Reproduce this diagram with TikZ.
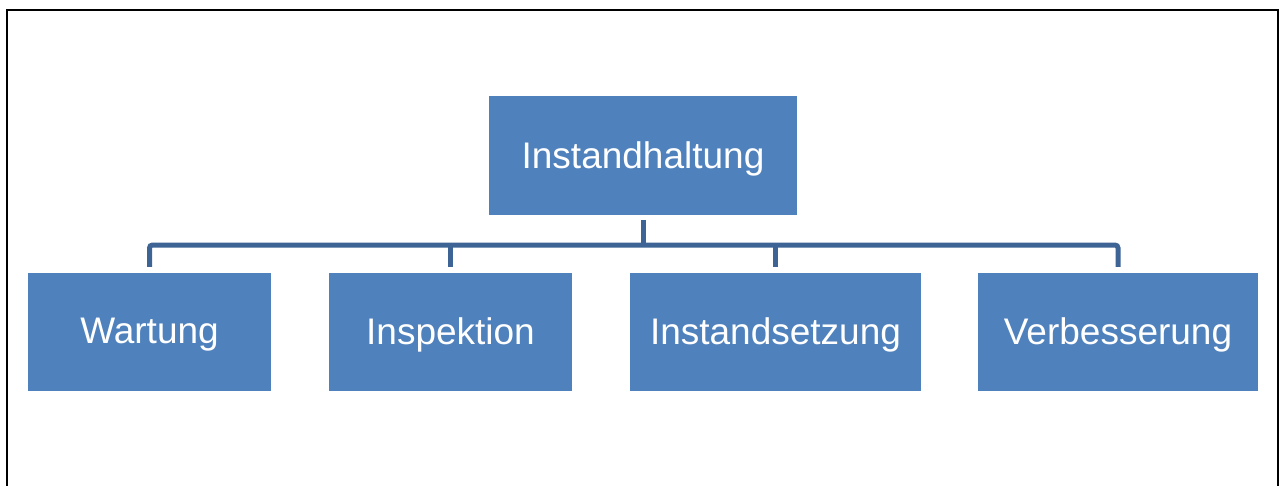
\documentclass[tikz,border=0pt]{standalone}
\usepackage{fontspec}
\setmainfont{Liberation Sans}
\definecolor{boxblue}{RGB}{79,129,189}
\definecolor{lineblue}{RGB}{62,100,149}
% lower a label a little without changing its box
\newcommand{\boxlabel}[1]{\raisebox{-3pt}[\height][\depth]{#1}}
\begin{document}
\begin{tikzpicture}[x=1pt,y=-1pt,
  orgbox/.style={fill=boxblue, draw=none, text=white, inner sep=0pt,
    minimum height=118pt, font=\fontsize{37}{44}\selectfont},
  conn/.style={draw=lineblue, line width=5pt, rounded corners=3pt}]
  \useasboundingbox (0,0) rectangle (1280,485);
  % outer frame, open at the bottom
  \begin{scope}
    \clip (0,0) rectangle (1280,485);
    \draw[line width=2.5pt] (7,500) -- (7,10) -- (1278,10) -- (1278,500);
  \end{scope}
  % boxes
  \node[orgbox, minimum width=308pt, minimum height=119pt] (top) at (643,155.5) {\boxlabel{Instandhaltung}};
  \node[orgbox, minimum width=243pt] (w) at (149.5,332) {\boxlabel{Wartung}};
  \node[orgbox, minimum width=243pt] (i) at (450.5,332) {\boxlabel{Inspektion}};
  \node[orgbox, minimum width=291pt] (s) at (775.5,332) {\boxlabel{Instandsetzung}};
  \node[orgbox, minimum width=280pt] (v) at (1118,332) {\boxlabel{Verbesserung}};
  % connectors, kept a few points clear of the boxes
  \coordinate (bar) at (0,245);
  \draw[conn] ([yshift=6pt]w.north) -- (w.north |- bar) -- (v.north |- bar) -- ([yshift=6pt]v.north);
  \draw[conn] ([yshift=-5pt]top.south) -- (top.south |- bar);
  \draw[conn] ([yshift=6pt]i.north) -- (i.north |- bar);
  \draw[conn] ([yshift=6pt]s.north) -- (s.north |- bar);
\end{tikzpicture}
\end{document}
